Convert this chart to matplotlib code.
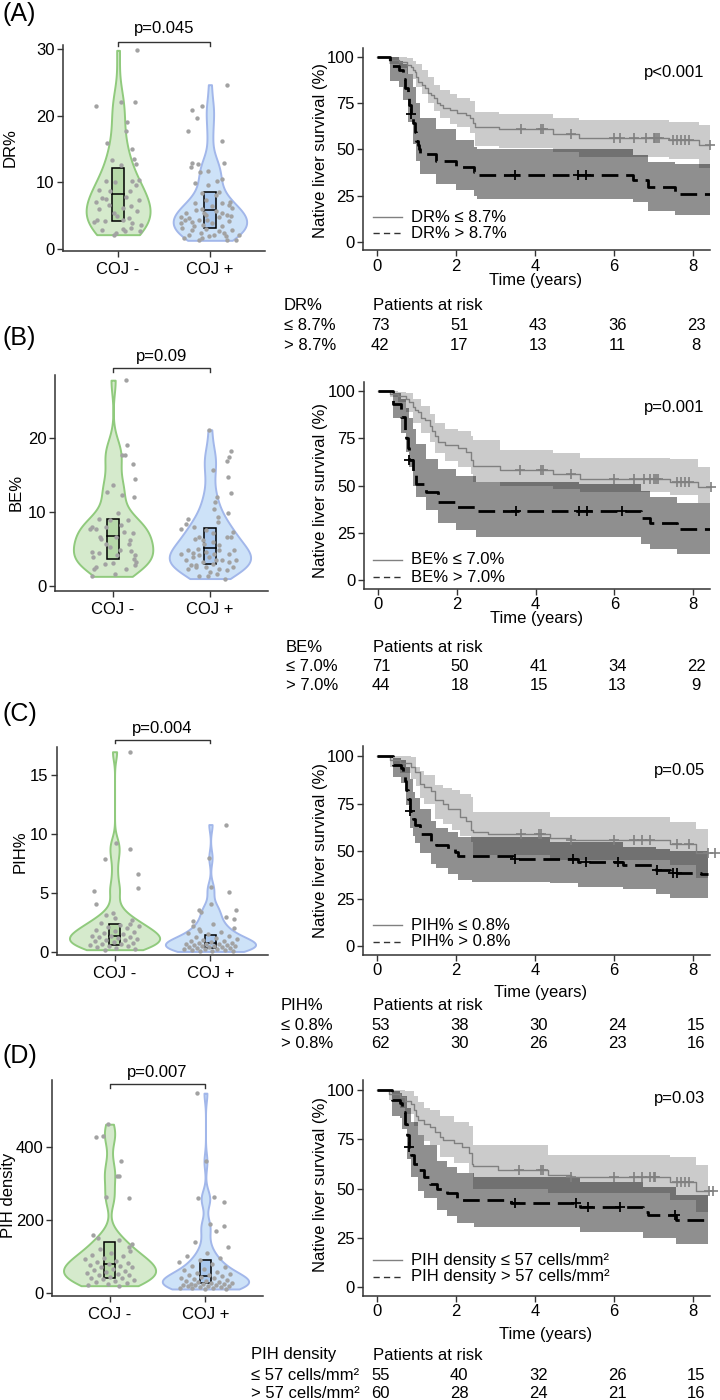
import numpy as np
import matplotlib
matplotlib.use("Agg")
import matplotlib.pyplot as plt
from matplotlib.transforms import blended_transform_factory
from matplotlib.lines import Line2D

plt.rcParams['font.family'] = ['Liberation Sans', 'DejaVu Sans']
W, H = 720, 1400
fig = plt.figure(figsize=(7.2, 14), dpi=100)
FS = 12

# ---------------------------------------------------------------- data
groups = ["COJ -", "COJ +"]

# Panel A violin (DR%)
A_neg = [29.8, 21.5, 22.0, 22.0, 19.0, 17.75, 15.9, 15.0, 13.5, 13.4, 12.65, 12.75, 10.25, 10.0, 10.15, 10.4,
         9.65, 8.9, 8.65, 8.75, 7.65, 7.5, 7.8, 7.05, 7.4, 6.65, 6.4, 6.0, 6.15, 5.4, 5.65, 4.9, 4.4, 4.15,
         4.4, 4.65, 3.9, 4.0, 2.9, 3.0, 2.75, 2.4, 3.15, 2.65, 2.15, 3.65]
A_neg_jit = [0.203, -0.243, 0.029, 0.181, 0.101, 0.083, -0.116, 0.156, 0.174, -0.062, 0.029, 0.192, -0.134,
             -0.033, 0.156, 0.228, 0.192, -0.207, -0.087, 0.127, -0.170, -0.127, 0.083, -0.243, 0.228, -0.098,
             0.138, -0.207, 0.058, -0.043, 0.210, -0.007, -0.232, -0.141, 0.058, 0.120, 0.156, -0.261, -0.170,
             0.058, 0.076, -0.025, 0.145, 0.236, -0.043, 0.246]
A_pos = [24.65, 20.9, 21.5, 19.65, 17.75, 16.15, 12.9, 12.75, 12.9, 12.25, 11.65, 11.5, 10.5, 10.15, 9.9, 9.65,
         8.4, 8.15, 8.5, 7.4, 6.9, 6.9, 7.0, 6.5, 6.15, 6.0, 5.65, 5.9, 5.4, 5.15, 4.8, 4.65, 4.4, 4.8, 4.3,
         4.0, 4.25, 3.9, 3.65, 3.4, 3.4, 3.15, 2.9, 3.0, 2.65, 2.4, 2.15, 2.15, 2.15, 1.9, 1.65, 1.65, 1.4,
         1.4, 1.3, 1.9, 2.9, 4.9, 2.4, 3.9, 4.3, 5.4, 5.4, 5.15, 6.65]
A_pos_jit = [0.188, -0.192, -0.091, -0.138, -0.236, 0.134, -0.199, -0.127, 0.152, -0.210, -0.018, -0.109,
             0.127, 0.072, -0.163, -0.018, -0.091, 0.062, 0.098, -0.047, -0.163, 0.127, 0.217, 0.025, 0.243,
             -0.083, 0.062, -0.156, 0.134, -0.047, 0.098, -0.228, -0.120, -0.319, -0.272, -0.192, 0.207,
             0.025, -0.076, 0.134, -0.174, -0.301, 0.243, -0.047, 0.098, -0.101, -0.228, 0.315, 0.043, 0.170,
             -0.283, -0.083, -0.120, 0.188, 0.279, -0.011, -0.192, 0.225, 0.152, -0.319, -0.029, -0.065,
             -0.264, 0.188, 0.207]
A_box = [(4.2, 8.2, 12.1), (3.2, 5.8, 8.6)]

# Panel B violin (BE%)
B_neg = [27.8, 19.1, 17.75, 17.75, 16.5, 14.4, 13.6, 12.7, 12.3, 12.0, 9.8, 9.1, 8.9, 8.0, 7.75, 7.75, 8.0,
         8.2, 6.6, 6.4, 6.2, 5.7, 4.8, 4.6, 4.4, 4.7, 4.15, 3.7, 2.8, 2.35, 2.55, 2.35, 3.0, 3.1, 1.65, 1.3,
         4.15, 5.2, 5.7, 7.1, 6.6, 7.3, 3.9, 3.25, 8.9]
B_neg_jit = [0.137, 0.148, 0.093, 0.127, 0.206, 0.223, 0.0, -0.058, 0.089, 0.216, 0.052, -0.148, 0.155,
             -0.223, -0.241, -0.172, -0.069, 0.086, 0.034, -0.120, 0.179, 0.165, 0.069, -0.223, -0.148, 0.189,
             0.223, 0.220, 0.230, 0.137, -0.172, -0.196, -0.086, 0.0, 0.021, -0.213, 0.041, -0.034, -0.069,
             0.206, -0.137, 0.110, -0.206, 0.241, -0.034]
B_pos = [21.1, 18.2, 17.4, 16.85, 15.6, 14.7, 12.6, 12.0, 11.35, 10.45, 9.3, 9.1, 9.85, 8.65, 8.35, 7.75, 7.6,
         7.1, 6.6, 6.4, 6.6, 6.6, 5.95, 5.7, 5.5, 4.9, 5.05, 4.45, 4.6, 4.8, 4.35, 3.9, 4.15, 3.45, 3.45,
         3.25, 3.25, 2.95, 2.55, 2.5, 2.35, 2.5, 2.1, 2.35, 1.9, 1.3, 1.3, 1.0, 1.65, 3.45, 2.8, 4.35, 4.35,
         3.9, 4.8, 6.2, 2.8, 3.45, 7.3, 8.0]
B_pos_jit = [-0.014, 0.223, 0.199, 0.175, 0.027, 0.192, 0.216, 0.069, 0.055, 0.045, 0.079, -0.223, 0.192,
             0.079, -0.247, -0.299, -0.041, 0.027, -0.110, -0.151, 0.175, 0.223, 0.027, -0.058, 0.096, -0.230,
             -0.127, -0.179, -0.041, 0.251, 0.045, -0.179, -0.110, 0.120, -0.247, -0.069, 0.199, 0.027, -0.144,
             -0.041, 0.096, 0.234, 0.175, -0.230, 0.0, -0.110, -0.024, 0.158, 0.072, 0.268, -0.196, -0.299,
             0.199, -0.007, 0.096, -0.076, -0.144, 0.062, 0.234, -0.162]
B_box = [(3.7, 6.8, 9.0), (2.9, 5.1, 7.8)]

# Panel C violin (PIH%)
C_neg = [16.97, 9.26, 8.7, 7.85, 6.6, 5.17, 5.4, 4.04, 3.1, 2.9, 2.37,
         0.2, 0.3, 0.35, 0.4, 0.5, 0.55, 0.6, 0.65, 0.7, 0.8, 0.85, 0.9, 1.0, 1.05, 1.1, 1.2, 1.25, 1.3,
         1.35, 1.4, 1.5, 1.6, 1.7, 1.8, 1.9, 2.0, 2.1, 2.2, 2.3, 2.5, 2.7, 3.3]
C_pos = [10.8, 8.0, 5.5, 5.1, 4.07, 3.6, 3.4, 3.56, 2.77, 2.2, 1.92,
         0.05, 0.1, 0.12, 0.15, 0.2, 0.22, 0.25, 0.3, 0.32, 0.35, 0.4, 0.42, 0.45, 0.5, 0.52, 0.55, 0.6,
         0.62, 0.65, 0.7, 0.72, 0.75, 0.8, 0.85, 0.9, 0.95, 1.0, 1.1, 1.2, 1.3, 1.4, 1.5, 1.6, 1.7, 1.8,
         2.0, 2.4, 2.6, 3.0]
C_box = [(0.6, 1.4, 2.37), (0.34, 0.76, 1.44)]

# Panel D violin (PIH density)
D_neg = [462, 430, 426, 360, 321, 319, 264, 261, 159, 150, 145, 134, 125,
         120, 115, 110, 105, 100, 95, 92, 88, 85, 82, 80, 78, 75, 72, 70, 65, 62, 60, 58, 55, 52, 50, 48,
         45, 42, 40, 38, 35, 33, 30, 28, 25, 22, 20]
D_pos = [547, 360, 264, 259, 250, 189, 183, 171,
         140, 126, 110, 100, 95, 90, 85, 80, 75, 70, 66, 62, 58, 55, 52, 50, 48, 46, 44, 42, 40, 38, 36,
         34, 32, 30, 29, 28, 27, 26, 25, 24, 23, 22, 21, 20, 19, 18, 17, 16, 15, 14, 13, 12, 11]
D_box = [(42, 79, 140), (27, 47, 90)]

# Kaplan-Meier curves: (times, survival %), CI change points, censor times
A_lo_t = [0, 0.30, 0.55, 0.75, 0.85, 0.92, 0.97, 1.00, 1.05, 1.15, 1.22, 1.30, 1.38, 1.45, 1.52, 1.60, 1.68,
          1.85, 2.02, 2.25, 2.35, 2.42, 2.48, 3.08, 4.45, 5.12, 7.40, 8.15]
A_lo_s = [100, 98.6, 97.3, 95.9, 94.5, 93.1, 91.8, 89.0, 86.3, 84.9, 83.5, 80.8, 79.4, 78.1, 75.3, 73.9, 72.6,
          71.2, 69.9, 68.5, 67.1, 64.4, 62.0, 60.9, 58.6, 56.4, 55.3, 52.6]
A_lo_ci_t = [0, 0.30, 0.55, 0.75, 0.92, 1.00, 1.15, 1.30, 1.45, 1.60, 1.85, 2.02, 2.35, 2.48, 3.08, 4.45, 5.12,
             7.40, 8.15]
A_lo_up = [100, 100, 100, 99.5, 98, 96, 93, 89, 85, 82, 80, 78, 76, 70, 69, 67, 66, 65, 63]
A_lo_dn = [100, 96, 94, 91, 88, 84, 80, 75, 71, 67, 64, 62, 59, 52, 51, 48.5, 46, 45, 40]
A_lo_cens = [3.65, 4.15, 4.2, 4.9, 6.0, 6.15, 6.5, 6.8, 7.0, 7.05, 7.1, 7.15, 7.5, 7.6, 7.7, 7.8, 7.9, 8.42]
A_hi_t = [0, 0.32, 0.55, 0.66, 0.72, 0.78, 0.82, 0.86, 0.90, 0.95, 1.00, 1.03, 1.06, 1.10, 1.50, 2.00, 2.45,
          2.52, 6.48, 6.85, 7.55]
A_hi_s = [100, 95.2, 92.9, 88.1, 83.3, 78.6, 73.8, 69.0, 64.3, 59.5, 54.8, 52.4, 50.0, 47.7, 43.6, 40.5, 37.8,
          36.0, 33.4, 29.8, 26.2]
A_hi_ci_t = [0, 0.32, 0.55, 0.66, 0.78, 0.90, 1.00, 1.08, 1.50, 2.00, 2.45, 2.52, 6.48, 6.85, 7.55]
A_hi_up = [100, 100, 98, 96, 91, 84, 75, 67, 61, 55, 51.5, 50, 47, 43, 42]
A_hi_dn = [100, 87, 84, 77, 65, 53, 44, 37, 31.5, 28, 25, 23, 21.5, 17, 14.5]
A_hi_cens = [0.87, 3.5, 5.1, 5.3]

B_lo_t = [0, 0.30, 0.50, 0.72, 0.80, 0.89, 0.95, 1.02, 1.10, 1.20, 1.31, 1.38, 1.44, 1.52, 1.69, 2.03, 2.24,
          2.37, 2.41, 3.09, 4.45, 5.12, 7.41, 8.13]
B_lo_s = [100, 98.6, 97.2, 95.8, 94.4, 91.5, 90.1, 88.7, 85.9, 84.5, 81.7, 78.9, 76.1, 73.2, 71.4, 69.7, 68.0,
          63.5, 60.4, 58.2, 56.0, 53.4, 52.0, 49.4]
B_lo_ci_t = [0, 0.30, 0.50, 0.72, 0.89, 1.10, 1.31, 1.44, 1.69, 2.03, 2.37, 2.41, 3.09, 4.45, 5.12, 7.41, 8.13]
B_lo_up = [100, 100, 99.5, 99, 96, 92, 88, 83, 80, 78.8, 76, 74, 69, 67, 64.5, 64, 60]
B_lo_dn = [100, 97, 94, 89, 83, 78, 73, 67, 63, 60, 56, 52, 50, 48, 46.5, 45, 41]
B_lo_cens = [3.6, 4.15, 4.2, 4.9, 6.0, 6.5, 6.75, 6.9, 7.0, 7.05, 7.1, 7.6, 7.7, 7.8, 7.9, 8.45]
B_hi_t = [0, 0.38, 0.59, 0.68, 0.72, 0.76, 0.80, 0.89, 0.96, 1.23, 1.52, 1.99, 2.50, 6.69, 6.90, 7.58]
B_hi_s = [100, 93.2, 86.4, 79.5, 75.0, 69.7, 63.5, 56.0, 51.0, 46.5, 41.4, 38.8, 36.5, 33.0, 30.3, 26.8]
B_hi_ci_t = [0, 0.38, 0.59, 0.72, 0.80, 0.89, 0.96, 1.23, 1.52, 1.99, 2.50, 5.10, 6.69, 6.90, 7.58]
B_hi_up = [100, 99, 96, 91, 86, 80, 72, 64, 59, 55, 52, 51, 47, 44, 41]
B_hi_dn = [100, 86, 78, 68, 60, 50, 43.7, 37, 30, 26.5, 23, 23, 19, 16.4, 14]
B_hi_cens = [0.80, 3.5, 5.1, 5.3, 6.2]

C_lo_t = [0, 0.32, 0.57, 0.87, 0.95, 1.08, 1.20, 1.37, 1.46, 1.67, 1.80, 2.09, 2.26, 2.39, 2.43, 2.81, 4.37,
          4.90, 7.41, 8.08]
C_lo_s = [100, 98.1, 96.2, 94.3, 91.6, 85.5, 83.7, 81.8, 76.7, 74.8, 72.3, 67.9, 66.0, 61.0, 60.0, 59.2, 56.6,
          55.7, 53.6, 48.7]
C_lo_ci_t = [0, 0.32, 0.57, 0.87, 0.99, 1.08, 1.20, 1.46, 1.67, 1.90, 2.09, 2.39, 2.43, 4.37, 7.41, 8.08]
C_lo_up = [100, 100, 100, 99.5, 94, 92, 90, 84.6, 83, 82, 80, 78.5, 70.6, 68, 65.3, 61.8]
C_lo_dn = [100, 94, 91, 88, 84, 78, 75, 67, 64, 61, 58, 55, 48, 45.5, 42.5, 36]
C_lo_cens = [3.65, 4.1, 4.15, 4.9, 6.0, 6.5, 6.7, 6.9, 7.6, 7.9, 8.38, 8.55]
C_hi_t = [0, 0.40, 0.62, 0.66, 0.70, 0.74, 0.78, 0.84, 0.91, 0.95, 1.08, 1.37, 1.50, 1.80, 1.97, 2.05, 3.45,
          5.09, 6.23, 7.07, 7.41, 8.21]
C_hi_s = [100, 95.2, 93.5, 90.3, 87.1, 82.3, 77.4, 71.0, 67.0, 63.6, 59.0, 54.8, 53.4, 51.3, 49.6, 47.5, 46.0,
          44.3, 42.6, 40.0, 38.5, 37.8]
C_hi_ci_t = [0, 0.40, 0.62, 0.74, 0.84, 0.91, 0.95, 1.08, 1.37, 1.50, 1.80, 2.05, 2.40, 4.37, 5.09, 6.23, 7.07,
             7.41]
C_hi_up = [100, 99, 98, 94, 88, 81, 78, 72, 66, 62, 60, 57.3, 57.3, 55, 55, 52, 51, 50]
C_hi_dn = [100, 89, 86, 74, 62, 58, 54, 49, 43, 41, 38, 35, 33.5, 33, 31, 30, 27.5, 25.5]
C_hi_cens = [0.84, 3.5, 4.96, 5.3, 6.1, 7.1, 7.5, 7.6]

D_lo_t = [0, 0.30, 0.59, 0.72, 0.85, 0.93, 1.00, 1.05, 1.18, 1.35, 1.47, 1.60, 1.68, 1.94, 2.15, 2.32, 2.40,
          2.44, 3.07, 4.34, 4.90, 7.41, 8.08]
D_lo_s = [100, 98.2, 96.4, 94.5, 92.7, 89.8, 87.0, 84.7, 83.0, 81.4, 78.8, 76.3, 74.6, 72.9, 71.2, 67.8, 62.7,
          61.4, 59.3, 56.8, 56.0, 53.4, 48.8]
D_lo_ci_t = [0, 0.30, 0.59, 0.72, 0.93, 1.05, 1.18, 1.35, 1.60, 1.94, 2.32, 2.44, 4.34, 7.41, 8.08]
D_lo_up = [100, 100, 100, 99.5, 97, 94, 91, 89.8, 87, 84, 82, 72, 67, 66, 62]
D_lo_dn = [100, 95, 91, 88, 82, 77, 74, 72, 66, 63, 58, 50, 47.5, 44, 38]
D_lo_cens = [3.6, 4.15, 4.2, 4.9, 6.0, 6.5, 6.7, 6.9, 7.0, 7.05, 7.6, 7.7, 7.8, 7.9, 8.4, 8.5]
D_hi_t = [0, 0.38, 0.59, 0.63, 0.70, 0.76, 0.80, 0.86, 0.94, 1.05, 1.18, 1.35, 1.52, 1.77, 2.02, 3.40, 5.14,
          6.74, 6.86, 7.58]
D_hi_s = [100, 95.0, 93.3, 89.0, 83.0, 77.0, 71.0, 67.0, 62.7, 59.3, 55.9, 52.5, 50.0, 47.5, 44.0, 42.7, 40.7,
          38.0, 36.4, 33.9]
D_hi_ci_t = [0, 0.38, 0.59, 0.63, 0.76, 0.86, 1.05, 1.18, 1.52, 1.77, 2.02, 2.45, 5.14, 6.74, 7.58]
D_hi_up = [100, 99.5, 98.5, 97, 91, 84, 77, 72, 64, 61, 58, 56, 53.5, 51, 46.5]
D_hi_dn = [100, 87, 86, 80, 65, 56, 48.5, 45, 39, 36, 32.5, 30.5, 28, 25, 22]
D_hi_cens = [0.80, 3.5, 5.05, 5.35, 6.15, 7.55]

risk_times = [0, 2, 4, 6, 8]
A_risk = [[73, 51, 43, 36, 23], [42, 17, 13, 11, 8]]
B_risk = [[71, 50, 41, 34, 22], [44, 18, 15, 13, 9]]
C_risk = [[53, 38, 30, 24, 15], [62, 30, 26, 23, 16]]
D_risk = [[55, 40, 32, 26, 15], [60, 28, 24, 21, 16]]

A_labels = ("DR%", ["≤ 8.7%", "> 8.7%"], ["DR% ≤ 8.7%", "DR% > 8.7%"])
B_labels = ("BE%", ["≤ 7.0%", "> 7.0%"], ["BE% ≤ 7.0%", "BE% > 7.0%"])
C_labels = ("PIH%", ["≤ 0.8%", "> 0.8%"], ["PIH% ≤ 0.8%", "PIH% > 0.8%"])
D_labels = ("PIH density", ["≤ 57 cells/mm²", "> 57 cells/mm²"],
            ["PIH density ≤ 57 cells/mm²", "PIH density > 57 cells/mm²"])
viol_p = ["p=0.045", "p=0.09", "p=0.004", "p=0.007"]
km_p = ["p<0.001", "p=0.001", "p=0.05", "p=0.03"]

# ---------------------------------------------------------------- helpers
AX_COL = '#333333'
GREEN_F, GREEN_E, GREEN_B = '#d5eacc', '#90ca7d', '#b6d9a8'
BLUE_F, BLUE_E, BLUE_B = '#cde2f8', '#a2b7ea', '#a9c8ee'
PT_COL = '#a2a2a2'
BW_ADJUST = 1.15


def fy(ypx):
    return 1 - ypx / H


def px_axes(x0, y0, x1, y1):
    ax = fig.add_axes([x0 / W, 1 - y1 / H, (x1 - x0) / W, (y1 - y0) / H])
    for s in ['top', 'right']:
        ax.spines[s].set_visible(False)
    for s in ['left', 'bottom']:
        ax.spines[s].set_color(AX_COL)
        ax.spines[s].set_linewidth(1.1)
    ax.tick_params(length=4, width=1, color=AX_COL, labelsize=FS, labelcolor='black', pad=2)
    ax.patch.set_alpha(0)
    return ax


def golden_jitter(n, amp):
    return [((k * 0.618034 + 0.3) % 1.0 - 0.5) * 2 * amp for k in range(n)]


def violin(ax, vals, center, halfw, face, edge):
    v = np.asarray(vals, float)
    n = len(v)
    sd = v.std(ddof=1)
    q75, q25 = np.percentile(v, [75, 25])
    bw = BW_ADJUST * 0.9 * min(sd, (q75 - q25) / 1.34) * n ** -0.2
    grid = np.linspace(v.min(), v.max(), 400)
    dens = np.exp(-0.5 * ((grid[:, None] - v[None, :]) / bw) ** 2).sum(1)
    dens = dens / dens.max() * halfw
    ax.fill_betweenx(grid, center - dens, center + dens, facecolor=face, edgecolor=edge, lw=1.4, zorder=1)


def violin_panel(box_px, ylim, yticks, neg, pos, neg_jit, pos_jit, boxes, widths, ylab, ylab_xy,
                 pval, brk_y, p_y, label, label_y):
    ax = px_axes(*box_px)
    ax.set_xlim(0.4, 2.6)
    ax.set_ylim(*ylim)
    for i, (vals, jit, hw, f, e, bf) in enumerate([(neg, neg_jit, widths[0], GREEN_F, GREEN_E, GREEN_B),
                                                  (pos, pos_jit, widths[1], BLUE_F, BLUE_E, BLUE_B)]):
        c = i + 1
        violin(ax, vals, c, hw, f, e)
        q1, med, q3 = boxes[i]
        ax.add_patch(plt.Rectangle((c - 0.062, q1), 0.124, q3 - q1, facecolor=bf, edgecolor='black',
                                   lw=1.1, zorder=2))
        ax.plot([c - 0.062, c + 0.062], [med, med], color='black', lw=1.1, zorder=2)
        ax.scatter(np.array(jit) + c, vals, s=10, color=PT_COL, linewidths=0, zorder=3)
    ax.set_xticks([1, 2])
    ax.set_xticklabels(groups)
    ax.set_yticks(yticks)
    ax.tick_params(axis='x', pad=4)
    fig.text(ylab_xy[0] / W, fy(ylab_xy[1]), ylab, rotation=90, ha='center', va='center', fontsize=FS)
    tr = blended_transform_factory(ax.transData, fig.transFigure)
    ax.plot([1, 1, 2, 2], [fy(brk_y + 3.5), fy(brk_y), fy(brk_y), fy(brk_y + 3.5)], color=AX_COL, lw=1.0,
            transform=tr, clip_on=False)
    ax.text(1.5, fy(p_y), pval, transform=tr, ha='center', va='center', fontsize=FS)
    fig.text(2 / W, fy(label_y), label, ha='left', va='center', fontsize=18)
    return ax


def stepped(t, v, tend):
    return np.array(list(t) + [tend]), np.array(list(v) + [v[-1]])


def surv_at(t, s, c):
    idx = np.searchsorted(np.array(t), c, side='right') - 1
    return np.array(s)[idx]


def km_panel(box_px, tend, lo, hi, p_txt, p_y, leg_txt, leg_y, ylab_y, time_y, time_x,
             risk, rlabels, rhead, tab_x, tab_ys):
    ax = px_axes(*box_px)
    ax.set_xlim(-0.354, 8.43)
    ax.set_ylim(-4.5, 105)
    # bands
    for d, col, al in [(lo, '#7f7f7f', 0.40), (hi, 'black', 0.44)]:
        tt, uu = stepped(d['ci_t'], d['up'], tend)
        _, dd = stepped(d['ci_t'], d['dn'], tend)
        ax.fill_between(tt, dd, uu, step='post', color=col, alpha=al, lw=0, zorder=1)
    # curves
    tt, ss = stepped(lo['t'], lo['s'], tend)
    ax.step(tt, ss, where='post', color='#808080', lw=1.0, zorder=3)
    tt, ss = stepped(hi['t'], hi['s'], tend)
    ax.step(tt, ss, where='post', color='black', lw=2.0, linestyle=(0, (6, 2.8)), zorder=4)
    ax.plot(lo['cens'], surv_at(lo['t'], lo['s'], lo['cens']), '+', color='#808080', ms=7, mew=1.2,
            clip_on=False, zorder=5)
    ax.plot(hi['cens'], surv_at(hi['t'], hi['s'], hi['cens']), '+', color='black', ms=7, mew=1.3,
            clip_on=False, zorder=5)
    ax.set_xticks([0, 2, 4, 6, 8])
    ax.set_yticks([0, 25, 50, 75, 100])
    ax.text(0.985, fy(p_y), p_txt, transform=blended_transform_factory(ax.transAxes, fig.transFigure),
            ha='right', va='center', fontsize=FS)
    # legend
    for k, (txt, yy) in enumerate(zip(leg_txt, leg_y)):
        if k == 0:
            ln = Line2D([373 / W, 402 / W], [fy(yy), fy(yy)], color='#808080', lw=1.0,
                        transform=fig.transFigure)
        else:
            ln = Line2D([373 / W, 402 / W], [fy(yy), fy(yy)], color='#333333', lw=1.0,
                        linestyle=(0, (4.5, 3)), transform=fig.transFigure)
        fig.add_artist(ln)
        fig.text(411 / W, fy(yy), txt, ha='left', va='center', fontsize=FS)
    fig.text(320 / W, fy(ylab_y), "Native liver survival (%)", rotation=90, ha='center', va='center',
             fontsize=FS)
    fig.text(time_x / W, fy(time_y), "Time (years)", ha='center', va='center', fontsize=FS)
    # risk table
    fig.text(tab_x / W, fy(tab_ys[0]), rhead, ha='left', va='center', fontsize=FS)
    fig.text(373 / W, fy(tab_ys[0]), "Patients at risk", ha='left', va='center', fontsize=FS)
    tr = blended_transform_factory(ax.transData, fig.transFigure)
    for r in range(2):
        fig.text(tab_x / W, fy(tab_ys[r + 1]), rlabels[r], ha='left', va='center', fontsize=FS)
        for tval, n in zip(risk_times, risk[r]):
            ax.text(tval + 0.08, fy(tab_ys[r + 1]), str(n), transform=tr, ha='center', va='center',
                    fontsize=FS, clip_on=False)
    return ax


def km(t, s, ci_t, up, dn, cens):
    return dict(t=t, s=s, ci_t=ci_t, up=up, dn=dn, cens=cens)


# ---------------------------------------------------------------- panel A
violin_panel((63, 45, 265, 251), (-0.3, 30.6), [0, 10, 20, 30], A_neg, A_pos, A_neg_jit, A_pos_jit,
             A_box, (0.348, 0.40), "DR%", (10, 148), viol_p[0], 42, 29, "(A)", 14)
km_panel((363, 47.75, 710, 250.3), 8.42,
         km(A_lo_t, A_lo_s, A_lo_ci_t, A_lo_up, A_lo_dn, A_lo_cens),
         km(A_hi_t, A_hi_s, A_hi_ci_t, A_hi_up, A_hi_dn, A_hi_cens),
         km_p[0], 73, A_labels[2], (217, 233), 150, 280, 536,
         A_risk, A_labels[1], A_labels[0], 284, (306, 325, 345))

# ---------------------------------------------------------------- panel B
violin_panel((55, 375, 268, 591), (-0.68, 28.5), [0, 10, 20], B_neg, B_pos, B_neg_jit, B_pos_jit,
             B_box, (0.41, 0.42), "BE%", (16, 492), viol_p[1], 368, 357, "(B)", 338)
km_panel((364, 381.6, 710, 588.5), 8.42,
         km(B_lo_t, B_lo_s, B_lo_ci_t, B_lo_up, B_lo_dn, B_lo_cens),
         km(B_hi_t, B_hi_s, B_hi_ci_t, B_hi_up, B_hi_dn, B_hi_cens),
         km_p[1], 408, B_labels[2], (560, 577), 490, 619, 537,
         B_risk, B_labels[1], B_labels[0], 286, (647, 666, 686))

# ---------------------------------------------------------------- panel C
C_neg_jit = [0.156, 0.010, 0.156, -0.104, 0.243, -0.215, 0.243, -0.191, -0.087, 0.0, 0.156] + \
    golden_jitter(len(C_neg) - 11, 0.26)
C_pos_jit = [0.163, -0.010, 0.007, 0.198, 0.007, -0.115, -0.097, 0.267, 0.25, -0.177, -0.115] + \
    golden_jitter(len(C_pos) - 11, 0.28)
violin_panel((57, 747, 268, 955), (-0.25, 17.37), [0, 5, 10, 15], C_neg, C_pos, C_neg_jit, C_pos_jit,
             C_box, (0.47, 0.47), "PIH%", (20, 852), viol_p[2], 740, 728, "(C)", 714)
km_panel((363, 746.5, 710, 954.6), 8.38,
         km(C_lo_t, C_lo_s, C_lo_ci_t, C_lo_up, C_lo_dn, C_lo_cens),
         km(C_hi_t, C_hi_s, C_hi_ci_t, C_hi_up, C_hi_dn, C_hi_cens),
         km_p[2], 770, C_labels[2], (925, 942), 851, 992, 541,
         C_risk, C_labels[1], C_labels[0], 281, (1006, 1025, 1044))

# ---------------------------------------------------------------- panel D
D_neg_jit = [-0.02, -0.07, -0.14, 0.118, 0.094, 0.076, -0.035, 0.208, -0.177, -0.122, 0.094, 0.233, 0.208] + \
    golden_jitter(len(D_neg) - 13, 0.26)
D_pos_jit = [-0.087, 0.007, 0.094, -0.073, 0.191, 0.049, 0.198, 0.111] + golden_jitter(len(D_pos) - 8, 0.28)
violin_panel((52, 1080, 263, 1296), (-8.2, 583), [0, 200, 400], D_neg, D_pos, D_neg_jit, D_pos_jit,
             D_box, (0.48, 0.45), "PIH density", (9, 1195), viol_p[3], 1084, 1073, "(D)", 1056)
km_panel((363, 1080.2, 710, 1295.9), 8.38,
         km(D_lo_t, D_lo_s, D_lo_ci_t, D_lo_up, D_lo_dn, D_lo_cens),
         km(D_hi_t, D_hi_s, D_hi_ci_t, D_hi_up, D_hi_dn, D_hi_cens),
         km_p[3], 1098, D_labels[2], (1260, 1277), 1185, 1335, 546,
         D_risk, D_labels[1], D_labels[0], 251, (1355, 1375, 1393))

fig.savefig("out.png", dpi=100)
